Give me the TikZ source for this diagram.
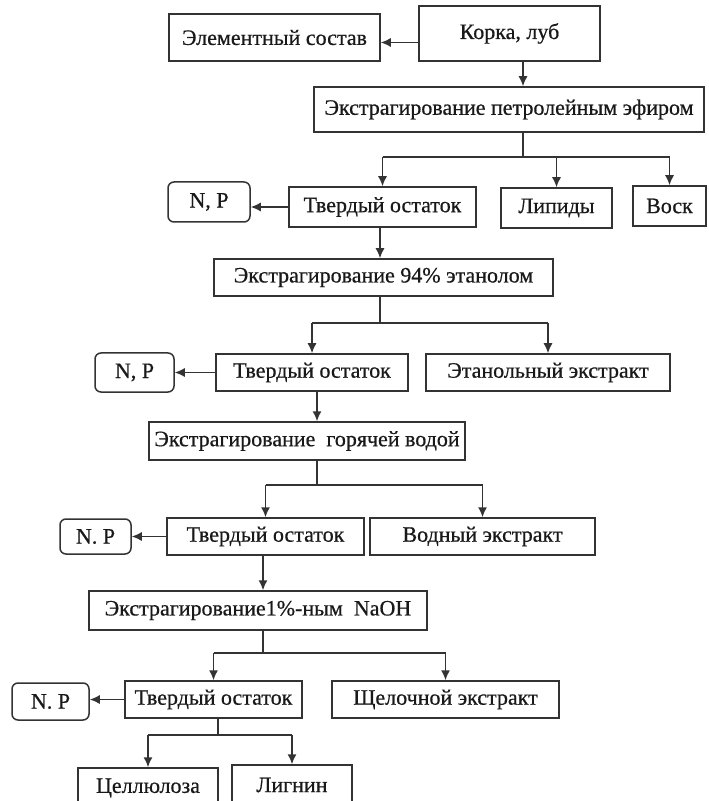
\documentclass[tikz,border=0pt]{standalone}
\usepackage{fontspec}
\setmainfont{Liberation Serif}[FakeBold=0.6]
\usepackage{tikz}
\usetikzlibrary{arrows.meta}
\usetikzlibrary{calc}
\tikzset{>={Latex[length=5pt,width=4.5pt]}}
\tikzstyle{block} = [rectangle, draw, text centered, inner sep=0pt, font=\fontsize{11}{13}\selectfont]
\tikzstyle{outbox} = [block, rounded corners=3pt]

\begin{document}
\begin{tikzpicture}[x=0.5pt, y=-0.5pt, line width=0.75pt, draw=black!80, text=black!90]
				\useasboundingbox[fill=white] (0,0) rectangle (708,801);
				\clip (0,0) rectangle (708,801);
				% start
				\node[block, minimum width=105.5pt, minimum height=23.5pt] (elem) at (274.5,37.5) {Элементный состав};
				\node[block, minimum width=90.5pt, minimum height=27.5pt] (bark) at (509.5,33.5) {Корка, луб};
				\node[block, minimum width=195pt, minimum height=22.5pt] (ext1) at (509,109.5) {Экстрагирование петролейным эфиром};
				% first stage
				\node[outbox, minimum width=41pt, minimum height=20pt] (np1) at (209,202) {N, P};
				\node[block, minimum width=93.5pt, minimum height=20pt] (res1) at (382.5,207) {Твердый остаток};
				\node[block, minimum width=55.5pt, minimum height=20pt] (lip) at (556.5,208) {Липиды};
				\node[block, minimum width=36.5pt, minimum height=20pt] (wax) at (669.5,206) {Воск};
				\node[block, minimum width=169.5pt, minimum height=18.5pt] (ext2) at (383.5,277.5) {Экстрагирование 94\% этанолом};
				% second stage
				\node[outbox, minimum width=39.5pt, minimum height=19.5pt] (np2) at (134.5,372.5) {N, P};
				\node[block, minimum width=96pt, minimum height=18.5pt] (res2) at (312,372.5) {Твердый остаток};
				\node[block, minimum width=122pt, minimum height=18.5pt] (eth) at (548,372.5) {Этанольный экстракт};
				\node[block, minimum width=158pt, minimum height=19pt] (ext3) at (307,441) {Экстрагирование\ \ горячей водой};
				% third stage
				\node[outbox, minimum width=35.5pt, minimum height=17.5pt] (np3) at (95.5,536.5) {N. P};
				\node[block, minimum width=98.5pt, minimum height=18.5pt] (res3) at (265.5,536.5) {Твердый остаток};
				\node[block, minimum width=112.5pt, minimum height=18.5pt] (aq) at (482.5,536.5) {Водный экстракт};
				\node[block, minimum width=169pt, minimum height=19.5pt] (ext4) at (258,610.5) {Экстрагирование1\%-ным\ \ NaOH};
				% fourth stage
				\node[outbox, minimum width=38.5pt, minimum height=18.5pt] (np4) at (50.5,701.5) {N. P};
				\node[block, minimum width=88.5pt, minimum height=18.5pt] (res4) at (213.5,699.5) {Твердый остаток};
				\node[block, minimum width=113.5pt, minimum height=18.5pt] (alk) at (445.5,699.5) {Щелочной экстракт};
				\node[block, minimum width=70pt, minimum height=20pt] (cell) at (148,788) {Целлюлоза};
				\node[block, minimum width=60pt, minimum height=20pt] (lig) at (292,785) {Лигнин};
				% branch points
				\coordinate (b1) at (523,157);
				\coordinate (b2) at (380,323);
				\coordinate (b3) at (317,485);
				\coordinate (b4) at (263,653);
				\coordinate (b5) at (218,735);
				% arrows
				\draw[->] ([yshift=-2.5pt]elem.east -| bark.west) -- ([yshift=-2.5pt]elem.east);
				\draw[->] (bark.south -| b1) -- (ext1.north -| b1);
				\draw (ext1.south -| b1) -- (b1);
				\draw (b1 -| res1) -- (b1 -| wax);
				\foreach \n in {res1,lip,wax}
					\draw[->] (b1 -| \n) -- (\n);
				\draw[->] (res1.west) -- (res1.west -| np1.east);
				\draw[->] (res1.south -| b2) -- (ext2.north -| b2);
				\draw (ext2.south -| b2) -- (b2);
				\draw (b2 -| res2) -- (b2 -| eth);
				\foreach \n in {res2,eth}
					\draw[->] (b2 -| \n) -- (\n);
				\draw[->] (res2.west) -- (res2.west -| np2.east);
				\draw[->] (res2.south -| b3) -- (ext3.north -| b3);
				\draw (ext3.south -| b3) -- (b3);
				\draw (b3 -| res3) -- (b3 -| aq);
				\foreach \n in {res3,aq}
					\draw[->] (b3 -| \n) -- (\n);
				\draw[->] (res3.west) -- (res3.west -| np3.east);
				\draw[->] (res3.south -| b4) -- (ext4.north -| b4);
				\draw (ext4.south -| b4) -- (b4);
				\draw (b4 -| res4) -- (b4 -| alk);
				\foreach \n in {res4,alk}
					\draw[->] (b4 -| \n) -- (\n);
				\draw[->] (res4.west) -- (res4.west -| np4.east);
				\draw (res4.south -| b5) -- (b5);
				\draw (b5 -| cell) -- (b5 -| lig);
				\foreach \n in {cell,lig}
					\draw[->] (b5 -| \n) -- (\n);
\end{tikzpicture}
\end{document}
